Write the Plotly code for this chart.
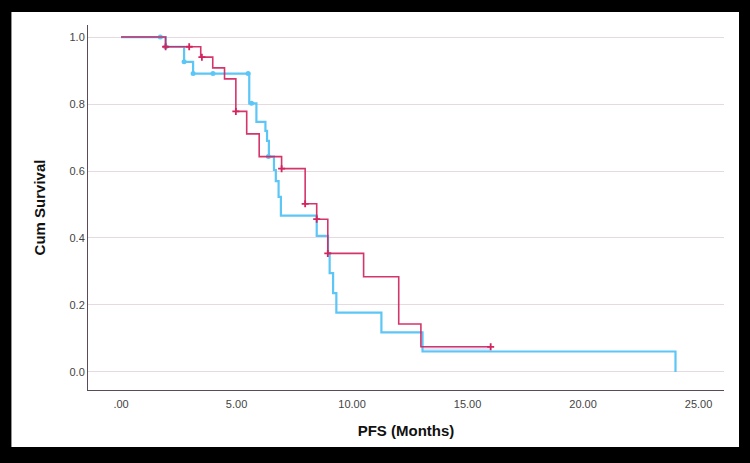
import plotly.graph_objects as go

# ---- data ----
red_t = [0, 1.93, 3.45, 3.97, 4.48, 4.97, 5.44, 5.98, 6.95, 7.97, 8.47, 8.95, 10.5, 12.02, 12.98, 16.0]
red_s = [1.0, 0.971, 0.940, 0.908, 0.875, 0.778, 0.711, 0.643, 0.607, 0.502, 0.456, 0.354, 0.284, 0.143, 0.075, 0.075]
red_cens_t = [1.93, 2.95, 3.5, 4.97, 6.95, 7.97, 8.47, 8.95, 16.0]
red_cens_s = [0.971, 0.971, 0.940, 0.778, 0.607, 0.502, 0.456, 0.354, 0.075]

blue_t = [0, 1.93, 2.73, 3.12, 5.55, 5.86, 6.25, 6.32, 6.40, 6.62, 6.70, 6.82, 6.92, 8.47, 8.96, 9.03, 9.18, 9.32, 11.27, 13.05, 24.0]
blue_s = [1.0, 0.971, 0.926, 0.891, 0.802, 0.747, 0.72, 0.69, 0.643, 0.603, 0.57, 0.523, 0.467, 0.406, 0.354, 0.295, 0.235, 0.177, 0.118, 0.061, 0.0]
blue_cens_t = [1.7, 1.93, 2.73, 3.12, 3.98, 5.5, 5.65, 6.38]
blue_cens_s = [1.0, 0.971, 0.926, 0.891, 0.891, 0.891, 0.802, 0.643]

x_ticks = [0, 5, 10, 15, 20, 25]
x_ticktext = [".00", "5.00", "10.00", "15.00", "20.00", "25.00"]
y_ticks = [0, 0.2, 0.4, 0.6, 0.8, 1.0]
y_ticktext = ["0.0", "0.2", "0.4", "0.6", "0.8", "1.0"]

RED = "#D2255E"
BLUE = "#5CC6F6"

fig = go.Figure()

# faint overlap band between the two tails (from the arrays)
band_x = [red_t[-2], red_t[-1], red_t[-1], blue_t[-2]]
band_y = [red_s[-2], red_s[-1], blue_s[-2], blue_s[-2]]
fig.add_trace(go.Scatter(x=band_x, y=band_y, fill="toself", mode="none",
                         fillcolor="rgba(160,185,240,0.35)", hoverinfo="skip",
                         showlegend=False))

fig.add_trace(go.Scatter(x=blue_t, y=blue_s, mode="lines", line_shape="hv",
                         line=dict(color=BLUE, width=2.2), showlegend=False))
fig.add_trace(go.Scatter(x=blue_cens_t, y=blue_cens_s, mode="markers",
                         marker=dict(symbol="circle", size=5, color=BLUE),
                         showlegend=False))
fig.add_trace(go.Scatter(x=red_t, y=red_s, mode="lines", line_shape="hv",
                         line=dict(color=RED, width=1.6), opacity=0.92,
                         showlegend=False))
fig.add_trace(go.Scatter(x=red_cens_t, y=red_cens_s, mode="markers",
                         marker=dict(symbol="cross-thin", size=5,
                                     line=dict(width=1.8, color=RED)),
                         showlegend=False))

fig.update_layout(
    width=750, height=463,
    margin=dict(l=88, r=26, t=25, b=73),
    paper_bgcolor="black",
    plot_bgcolor="white",
    font=dict(family="Liberation Sans, Arial, sans-serif"),
    shapes=[dict(type="rect", xref="paper", yref="paper",
                 x0=-0.1204, x1=1.0236, y0=-0.156, y1=1.0356,
                 fillcolor="white", line=dict(width=0), layer="below")],
)

fig.update_xaxes(
    range=[-1.43, 26.1], tickvals=x_ticks, ticktext=x_ticktext,
    showgrid=False, zeroline=False, showline=True, linecolor="#5A4B57", linewidth=1,
    ticks="", tickfont=dict(size=11, color="#444444"), ticklabelstandoff=4,
    title=dict(text="<b>PFS (Months)</b>", font=dict(size=15, color="#111111"), standoff=16),
)
fig.update_yaxes(
    range=[-0.054, 1.036], tickvals=y_ticks, ticktext=y_ticktext,
    showgrid=True, gridcolor="#E4DADF", gridwidth=1,
    zeroline=False, showline=True, linecolor="#5A4B57", linewidth=1,
    ticks="", tickfont=dict(size=11, color="#444444"),
    title=dict(text="<b>Cum Survival</b>", font=dict(size=15, color="#111111"), standoff=20),
)

fig.write_html("out.html")
